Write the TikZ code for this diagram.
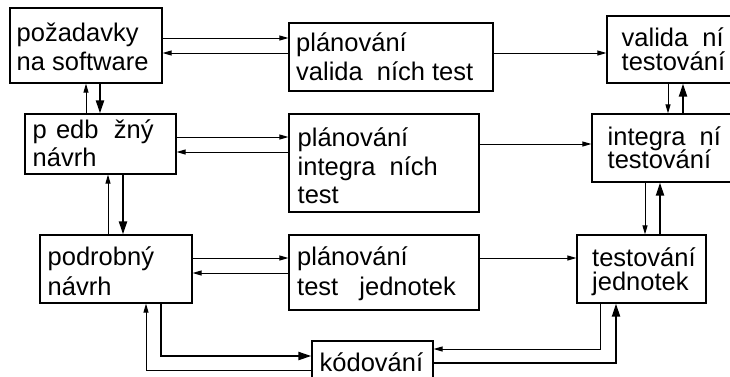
\documentclass[tikz,border=0pt]{standalone}
\usepackage{fontspec}
\setmainfont{Liberation Sans}
\usetikzlibrary{arrows.meta}
\newcommand\twolines[3]{\vtop{\baselineskip=#1pt\lineskiplimit=-100pt\lineskip=0pt\hbox{#2}\hbox{#3}}}
\newcommand\threelines[4]{\vtop{\baselineskip=#1pt\lineskiplimit=-100pt\lineskip=0pt\hbox{#2}\hbox{#3}\hbox{#4}}}
\tikzset{
  box/.style={draw=black, line width=1.2pt, inner sep=0pt, fill=none},
  txt/.style={anchor=base west, inner sep=0pt, font=\fontsize{25.5}{30}\selectfont},
  thin/.style={draw=black, line width=1pt, -{Triangle[length=9pt,width=5pt]}},
  thickarr/.style={draw=black, line width=2pt, -{Triangle[length=13pt,width=8pt]}},
}
\begin{document}
\begin{tikzpicture}[x=1pt,y=-1pt]
\useasboundingbox (0,0) rectangle (730,376);
\clip (0,0) rectangle (730,376);
% boxes
\node[box, minimum width=152pt, minimum height=75pt] (req) at (86,45.5) {};
\node[box, minimum width=204pt, minimum height=68pt] (plv) at (391,57) {};
\node[box, minimum width=128pt, minimum height=67pt] (vt) at (671,49.5) {};
\node[box, minimum width=151pt, minimum height=60pt] (pred) at (100.5,144) {};
\node[box, minimum width=190pt, minimum height=98pt] (pli) at (384,163) {};
\node[box, minimum width=143pt, minimum height=68pt] (it) at (663.5,148) {};
\node[box, minimum width=152pt, minimum height=68pt] (pod) at (116,269) {};
\node[box, minimum width=190pt, minimum height=75pt] (plj) at (384,272.5) {};
\node[box, minimum width=129pt, minimum height=68pt] (tj) at (641.5,269) {};
\node[box, minimum width=121pt, minimum height=42pt] (kod) at (372.5,362) {};
% texts
\node[txt] (t1) at (16.5,41.7) {\twolines{28.3}{požadavky}{na software}};
\node[txt] (t3) at (296,51.7) {\twolines{28.3}{plánování}{valida\hspace{0.55em}ních test}};
\node[txt] (t5) at (621.5,46.7) {\twolines{23.3}{valida\hspace{0.55em}ní}{testování}};
\node[txt] (t7) at (32.5,138.3) {\twolines{28.3}{p\hspace{0.36em}edb\hspace{0.6em}žný}{návrh}};
\node[txt] (t9) at (297.5,146.7) {\threelines{28.3}{plánování}{integra\hspace{0.55em}ních}{test}};
\node[txt] (t12) at (607.5,145) {\twolines{23.3}{integra\hspace{0.55em}ní}{testování}};
\node[txt] (t14) at (47.5,265) {\twolines{30}{podrobný}{návrh}};
\node[txt] (t16) at (297,265) {\twolines{30}{plánování}{test\hspace{0.55em}\hspace{0.28em}jednotek}};
\node[txt] (t18) at (592,266) {\twolines{24}{testování}{jednotek}};
\node[txt] (t20) at (319.5,371) {kódování};
% horizontal connectors
\draw[thin] (req.east |- 0,38) -- (plv.west |- 0,38);
\draw[thin] (plv.west |- 0,53) -- (req.east |- 0,53);
\draw[thin] (pred.east |- 0,137) -- (pli.west |- 0,137);
\draw[thin] (pli.west |- 0,152) -- (pred.east |- 0,152);
\draw[thin] (pod.east |- 0,258) -- (plj.west |- 0,258);
\draw[thin] (plj.west |- 0,273) -- (pod.east |- 0,273);
\draw[thin] (plv.east |- 0,53) -- (vt.west |- 0,53);
\draw[thin] (pli.east |- 0,144) -- (it.west |- 0,144);
\draw[thin] (plj.east |- 0,258) -- (tj.west |- 0,258);
% vertical connectors
\draw[thin] (pred.north -| 86,0) -- (req.south -| 86,0);
\draw[thickarr] (req.south -| 100,0) -- (pred.north -| 100,0);
\draw[thin] (pod.north -| 108,0) -- (pred.south -| 108,0);
\draw[thickarr] (pred.south -| 123,0) -- (pod.north -| 123,0);
\draw[thin] (vt.south -| 668,0) -- (it.north -| 668,0);
\draw[thickarr] (it.north -| 683,0) -- (vt.south -| 683,0);
\draw[thin] (it.south -| 645,0) -- (tj.north -| 645,0);
\draw[thickarr] (tj.north -| 660,0) -- (it.south -| 660,0);
% elbow connectors around coding
\draw[thickarr] (pod.south -| 161,0) |- (kod.west |- 0,356);
\draw[thin] (kod.west |- 0,370) -| (pod.south -| 146,0);
\draw[thin] (tj.south -| 600,0) |- (kod.east |- 0,349);
\draw[thickarr] (kod.east |- 0,363) -| (tj.south -| 616,0);
\end{tikzpicture}
\end{document}
